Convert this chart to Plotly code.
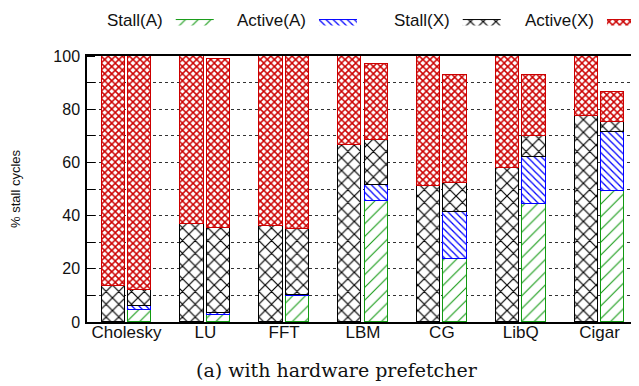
import plotly.graph_objects as go

categories = ["Cholesky", "LU", "FFT", "LBM", "CG", "LibQ", "Cigar"]

# left bar of each pair (X only)
left_stall_x = [13.7, 36.9, 36.2, 66.4, 51.0, 57.8, 77.4]
left_active_x = [86.3, 63.1, 63.8, 33.6, 49.0, 42.2, 22.6]

# right bar of each pair (A + X)
right_stall_a = [4.4, 2.6, 9.6, 45.4, 23.7, 44.3, 49.1]
right_active_a = [1.5, 0.8, 0.6, 6.2, 17.8, 17.8, 22.4]
right_stall_x = [6.2, 32.1, 24.8, 16.7, 10.7, 7.8, 3.7]
right_active_x = [87.9, 63.5, 65.0, 28.8, 40.8, 23.1, 11.3]

legend_names = ["Stall(A)", "Active(A)", "Stall(X)", "Active(X)"]

GREEN = "#119911"
BLUE = "#0000ff"
BLACK = "#000000"
RED = "#cc0000"

styles = {
    "Stall(A)": dict(color=GREEN, shape="/", size=9, solidity=0.12),
    "Active(A)": dict(color=BLUE, shape="\\", size=5, solidity=0.25),
    "Stall(X)": dict(color=BLACK, shape="x", size=9, solidity=0.25),
    "Active(X)": dict(color=RED, shape="x", size=5, solidity=0.5),
}

W, H = 631, 378  # page adds an 8px body margin

BW = 0.296
OFF = 0.168
idx = list(range(len(categories)))
x_left = [i - OFF for i in idx]
x_right = [i + OFF for i in idx]

fig = go.Figure()


def add_bar(x, y, key):
    s = styles[key]
    fig.add_trace(go.Bar(
        x=x, y=y, width=BW, name=key, showlegend=False,
        marker=dict(
            color="white",
            line=dict(color=s["color"], width=1),
            pattern=dict(shape=s["shape"], fgcolor=s["color"], bgcolor="white",
                         size=s["size"], solidity=s["solidity"], fillmode="replace"),
        ),
    ))


add_bar(x_left, left_stall_x, "Stall(X)")
add_bar(x_left, left_active_x, "Active(X)")
add_bar(x_right, right_stall_a, "Stall(A)")
add_bar(x_right, right_active_a, "Active(A)")
add_bar(x_right, right_stall_x, "Stall(X)")
add_bar(x_right, right_active_x, "Active(X)")

# legend entries (swatch after label)
legend_x = [97, 227, 384, 515]
for k, (name, lx) in enumerate(zip(legend_names, legend_x)):
    s = styles[name]
    lname = "legend" if k == 0 else f"legend{k+1}"
    fig.add_trace(go.Scatter(
        x=[None], y=[None], mode="lines", fill="toself", name="",
        line=dict(color=s["color"], width=1),
        fillcolor="white",
        fillpattern=dict(shape=s["shape"], fgcolor=s["color"], bgcolor="white",
                         size=s["size"], solidity=s["solidity"], fillmode="replace"),
        legend=lname, showlegend=True, hoverinfo="skip",
    ))
    fig.update_layout(**{lname: dict(
        xref="container", yref="container", x=lx / W, y=1 - 14 / H,
        xanchor="left", yanchor="middle", orientation="h",
        bgcolor="rgba(0,0,0,0)", borderwidth=0, itemwidth=38,
        title=dict(text=name, side="left", font=dict(size=17, color="#111")),
        font=dict(size=17), tracegroupgap=0,
    )})

fig.update_layout(
    width=W, height=H,
    margin=dict(l=79, r=0, t=48, b=64, autoexpand=False),
    barmode="stack",
    plot_bgcolor="white", paper_bgcolor="white",
    font=dict(family="Liberation Sans, Arial, sans-serif", color="#111"),
    xaxis=dict(
        range=[-0.5, 6.5], tickmode="array", tickvals=idx, ticktext=categories,
        ticks="", showgrid=False, zeroline=False, automargin=False,
        showline=True, linecolor="black", linewidth=1.5, mirror=True,
        tickfont=dict(size=17), ticklabelstandoff=-6,
    ),
    yaxis=dict(
        range=[0, 100], tickmode="array", tickvals=[0, 20, 40, 60, 80, 100],
        ticks="", tickfont=dict(size=16), ticklabelstandoff=2, automargin=False,
        showgrid=True, gridcolor="#333", griddash="dot", gridwidth=1,
        zeroline=False, showline=True, linecolor="black", linewidth=1.5, mirror="ticks",
        minor=dict(dtick=10, tick0=0, ticks="inside", ticklen=8, tickcolor="black",
                   showgrid=True, gridcolor="#333", griddash="dot", gridwidth=1),
        title=dict(text="% stall cycles", font=dict(size=13), standoff=32),
    ),
    bargap=0,
)

fig.add_annotation(
    text="(a) with hardware prefetcher", xref="paper", yref="paper",
    x=250 / 552, y=(314 - 362) / 266, xanchor="center", yanchor="middle",
    showarrow=False, font=dict(family="DejaVu Serif, serif", size=19, color="#111"),
)

fig.write_html("out.html")
